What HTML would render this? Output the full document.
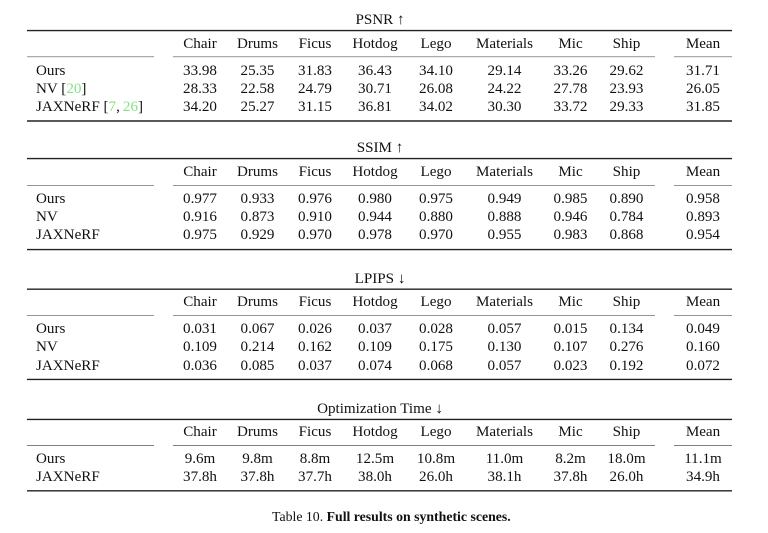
<!DOCTYPE html>
<html><head><meta charset="utf-8">
<style>
html,body{margin:0;padding:0;background:#fff;}
body{width:768px;height:533px;position:relative;overflow:hidden;font-family:"Liberation Serif","Times New Roman",serif;font-size:15.1px;color:#111;}
.r{position:absolute;left:0;width:768px;height:18px;line-height:18px;white-space:nowrap;}
.r span{position:absolute;top:0;width:80px;text-align:center;}
.r span.l{left:36px;width:auto;text-align:left;}
.r span.t{left:280px;width:200px;}
.a{left:160px}.b{left:217.5px}.c{left:275px}.d{left:335px}.e{left:396px}.f{left:464.5px}.g{left:530.5px}.h{left:586.5px}.m{left:663px}
.cite{color:#86e086;}
.cap{position:absolute;left:272px;top:509px;font-size:13.8px;line-height:16px;white-space:nowrap;}
svg{position:absolute;left:0;top:0;}
</style></head><body>
<svg width="768" height="533">
<g stroke="#222" stroke-width="1.4">
<line x1="27" x2="732" y1="30.6" y2="30.6"/>
<line x1="27" x2="732" y1="121" y2="121"/>
<line x1="27" x2="732" y1="158.6" y2="158.6"/>
<line x1="27" x2="732" y1="249.6" y2="249.6"/>
<line x1="27" x2="732" y1="289.2" y2="289.2"/>
<line x1="27" x2="732" y1="379.4" y2="379.4"/>
<line x1="27" x2="732" y1="419.4" y2="419.4"/>
<line x1="27" x2="732" y1="490.8" y2="490.8"/>
</g>
<g stroke="#555" stroke-width="0.7">
<line x1="27" x2="154" y1="56.8" y2="56.8"/><line x1="173" x2="655" y1="56.8" y2="56.8"/><line x1="674" x2="732" y1="56.8" y2="56.8"/>
<line x1="27" x2="154" y1="185.3" y2="185.3"/><line x1="173" x2="655" y1="185.3" y2="185.3"/><line x1="674" x2="732" y1="185.3" y2="185.3"/>
<line x1="27" x2="154" y1="315.3" y2="315.3"/><line x1="173" x2="655" y1="315.3" y2="315.3"/><line x1="674" x2="732" y1="315.3" y2="315.3"/>
<line x1="27" x2="154" y1="445.4" y2="445.4"/><line x1="173" x2="655" y1="445.4" y2="445.4"/><line x1="674" x2="732" y1="445.4" y2="445.4"/>
</g>
</svg>

<!-- PSNR -->
<div class="r" style="top:11px"><span class="t">PSNR ↑</span></div>
<div class="r" style="top:34.5px"><span class="a">Chair</span><span class="b">Drums</span><span class="c">Ficus</span><span class="d">Hotdog</span><span class="e">Lego</span><span class="f">Materials</span><span class="g">Mic</span><span class="h">Ship</span><span class="m">Mean</span></div>
<div class="r" style="top:61.5px"><span class="l">Ours</span><span class="a">33.98</span><span class="b">25.35</span><span class="c">31.83</span><span class="d">36.43</span><span class="e">34.10</span><span class="f">29.14</span><span class="g">33.26</span><span class="h">29.62</span><span class="m">31.71</span></div>
<div class="r" style="top:79.8px"><span class="l">NV [<span class="cite" style="position:static">20</span>]</span><span class="a">28.33</span><span class="b">22.58</span><span class="c">24.79</span><span class="d">30.71</span><span class="e">26.08</span><span class="f">24.22</span><span class="g">27.78</span><span class="h">23.93</span><span class="m">26.05</span></div>
<div class="r" style="top:98.2px"><span class="l">JAXNeRF [<span class="cite" style="position:static">7</span>,&#8201;<span class="cite" style="position:static">26</span>]</span><span class="a">34.20</span><span class="b">25.27</span><span class="c">31.15</span><span class="d">36.81</span><span class="e">34.02</span><span class="f">30.30</span><span class="g">33.72</span><span class="h">29.33</span><span class="m">31.85</span></div>

<!-- SSIM -->
<div class="r" style="top:139px"><span class="t">SSIM ↑</span></div>
<div class="r" style="top:162.5px"><span class="a">Chair</span><span class="b">Drums</span><span class="c">Ficus</span><span class="d">Hotdog</span><span class="e">Lego</span><span class="f">Materials</span><span class="g">Mic</span><span class="h">Ship</span><span class="m">Mean</span></div>
<div class="r" style="top:189.5px"><span class="l">Ours</span><span class="a">0.977</span><span class="b">0.933</span><span class="c">0.976</span><span class="d">0.980</span><span class="e">0.975</span><span class="f">0.949</span><span class="g">0.985</span><span class="h">0.890</span><span class="m">0.958</span></div>
<div class="r" style="top:207.8px"><span class="l">NV</span><span class="a">0.916</span><span class="b">0.873</span><span class="c">0.910</span><span class="d">0.944</span><span class="e">0.880</span><span class="f">0.888</span><span class="g">0.946</span><span class="h">0.784</span><span class="m">0.893</span></div>
<div class="r" style="top:226.2px"><span class="l">JAXNeRF</span><span class="a">0.975</span><span class="b">0.929</span><span class="c">0.970</span><span class="d">0.978</span><span class="e">0.970</span><span class="f">0.955</span><span class="g">0.983</span><span class="h">0.868</span><span class="m">0.954</span></div>

<!-- LPIPS -->
<div class="r" style="top:269.5px"><span class="t">LPIPS ↓</span></div>
<div class="r" style="top:293px"><span class="a">Chair</span><span class="b">Drums</span><span class="c">Ficus</span><span class="d">Hotdog</span><span class="e">Lego</span><span class="f">Materials</span><span class="g">Mic</span><span class="h">Ship</span><span class="m">Mean</span></div>
<div class="r" style="top:320px"><span class="l">Ours</span><span class="a">0.031</span><span class="b">0.067</span><span class="c">0.026</span><span class="d">0.037</span><span class="e">0.028</span><span class="f">0.057</span><span class="g">0.015</span><span class="h">0.134</span><span class="m">0.049</span></div>
<div class="r" style="top:338.3px"><span class="l">NV</span><span class="a">0.109</span><span class="b">0.214</span><span class="c">0.162</span><span class="d">0.109</span><span class="e">0.175</span><span class="f">0.130</span><span class="g">0.107</span><span class="h">0.276</span><span class="m">0.160</span></div>
<div class="r" style="top:356.7px"><span class="l">JAXNeRF</span><span class="a">0.036</span><span class="b">0.085</span><span class="c">0.037</span><span class="d">0.074</span><span class="e">0.068</span><span class="f">0.057</span><span class="g">0.023</span><span class="h">0.192</span><span class="m">0.072</span></div>

<!-- Optimization Time -->
<div class="r" style="top:399.8px"><span class="t">Optimization Time ↓</span></div>
<div class="r" style="top:423.3px"><span class="a">Chair</span><span class="b">Drums</span><span class="c">Ficus</span><span class="d">Hotdog</span><span class="e">Lego</span><span class="f">Materials</span><span class="g">Mic</span><span class="h">Ship</span><span class="m">Mean</span></div>
<div class="r" style="top:450px"><span class="l">Ours</span><span class="a">9.6m</span><span class="b">9.8m</span><span class="c">8.8m</span><span class="d">12.5m</span><span class="e">10.8m</span><span class="f">11.0m</span><span class="g">8.2m</span><span class="h">18.0m</span><span class="m">11.1m</span></div>
<div class="r" style="top:468px"><span class="l">JAXNeRF</span><span class="a">37.8h</span><span class="b">37.8h</span><span class="c">37.7h</span><span class="d">38.0h</span><span class="e">26.0h</span><span class="f">38.1h</span><span class="g">37.8h</span><span class="h">26.0h</span><span class="m">34.9h</span></div>

<div class="cap">Table 10. <b>Full results on synthetic scenes.</b></div>
</body></html>
